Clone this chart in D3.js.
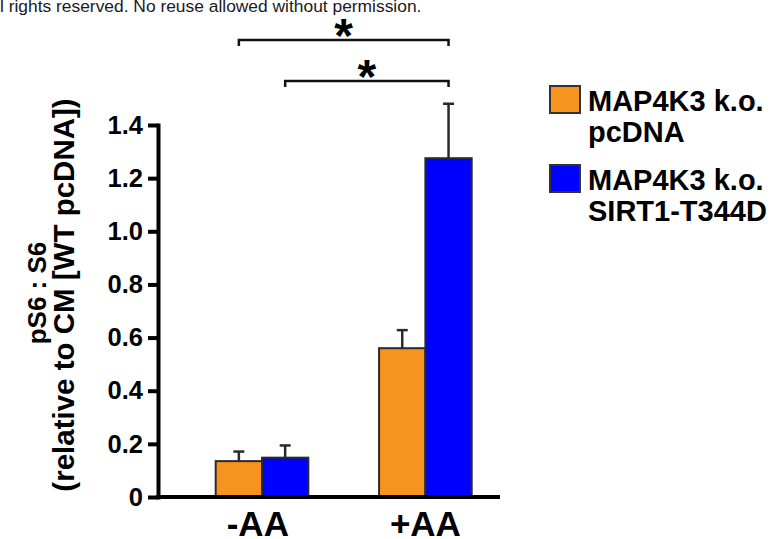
<!DOCTYPE html>
<html>
  <head>
    <meta charset="utf-8">
    <script src="https://d3js.org/d3.v7.min.js"></script>
    <title>pS6 : S6</title>
    <style>
      body { margin: 0; background: #fff; }
      svg text { font-family: "Liberation Sans", Arial, Helvetica, sans-serif; fill: #000; }
      .bold { font-weight: bold; }
    </style>
  </head>
  <body>
    <div id="chart"></div>
    <script>
      // data
      const groups = ["-AA", "+AA"];
      const series = ["MAP4K3 k.o. pcDNA", "MAP4K3 k.o. SIRT1-T344D"];
      const legendLines = [["MAP4K3 k.o.", "pcDNA"], ["MAP4K3 k.o.", "SIRT1-T344D"]];
      const colors = ["#F7941F", "#0000FF"];
      const means = [[0.135, 0.148], [0.56, 1.275]]; // [group][series]
      const errs = [[0.036, 0.046], [0.068, 0.205]];
      const yTicks = [0, 0.2, 0.4, 0.6, 0.8, 1.0, 1.2, 1.4];
      // significance: [group, series] -> [group, series]
      const sig = [
        { from: [0, 0], to: [1, 1], label: "*" },
        { from: [0, 1], to: [1, 1], label: "*" }
      ];

      const W = 775, H = 539;
      const svg = d3.select("#chart").append("svg")
        .attr("width", W).attr("height", H);

      const y = d3.scaleLinear().domain([0, 1.4]).range([497, 125]);
      const x = d3.scaleBand().domain(groups).range([215.7, 471.7]).paddingInner(0.433);
      const xs = d3.scaleBand().domain(series).range([0, x.bandwidth()]);
      const AXIS_X = 158;

      // header note (clipped on the left in the original)
      svg.append("text")
        .attr("x", -15.5).attr("y", 12)
        .style("font-size", "17.4px").style("fill", "#1a1a1a")
        .text("All rights reserved. No reuse allowed without permission.");

      // y axis
      const yAxis = svg.append("g")
        .attr("transform", `translate(${AXIS_X},0)`)
        .call(d3.axisLeft(y).tickValues(yTicks).tickSize(10).tickSizeOuter(0).tickPadding(5)
          .tickFormat(d => d === 0 ? "0" : d3.format(".1f")(d)));
      yAxis.select(".domain").attr("stroke-width", 4).attr("stroke-linecap", "square");
      yAxis.selectAll(".tick line").attr("stroke-width", 4);
      yAxis.selectAll(".tick text").attr("class", "bold").style("font-size", "25.5px");

      // bars
      const bars = svg.append("g");
      groups.forEach((g, gi) => {
        series.forEach((s, si) => {
          const bx = x(g) + xs(s);
          bars.append("rect")
            .attr("x", bx).attr("width", xs.bandwidth())
            .attr("y", y(means[gi][si]))
            .attr("height", y(0) - y(means[gi][si]))
            .attr("fill", colors[si])
            .attr("stroke", "#2a2a2a").attr("stroke-width", 2);
          const cx = bx + xs.bandwidth() / 2;
          const top = y(means[gi][si] + errs[gi][si]);
          bars.append("line")
            .attr("x1", cx).attr("x2", cx)
            .attr("y1", y(means[gi][si])).attr("y2", top)
            .attr("stroke", "#2a2a2a").attr("stroke-width", 2.5);
          bars.append("line")
            .attr("x1", cx - 5.5).attr("x2", cx + 5.5)
            .attr("y1", top).attr("y2", top)
            .attr("stroke", "#2a2a2a").attr("stroke-width", 2.5);
        });
      });

      // x axis baseline and labels
      svg.append("line")
        .attr("x1", AXIS_X - 2).attr("x2", 500)
        .attr("y1", y(0)).attr("y2", y(0))
        .attr("stroke", "#000").attr("stroke-width", 4);
      const xAxis = svg.append("g")
        .attr("transform", `translate(0,${y(0)})`)
        .call(d3.axisBottom(x).tickSize(0).tickPadding(14));
      xAxis.select(".domain").remove();
      xAxis.selectAll(".tick text").attr("class", "bold").style("font-size", "35px")
        .attr("dx", d => d === "-AA" ? "-0.12em" : 0);

      // y title
      const title = svg.append("g").attr("class", "bold").attr("text-anchor", "middle");
      title.append("text")
        .attr("transform", "translate(46,293) rotate(-90)")
        .style("font-size", "26px").text("pS6 : S6");
      title.append("text")
        .attr("transform", "translate(74,295) rotate(-90)")
        .style("font-size", "29.5px").text("(relative to CM [WT pcDNA])");

      // significance brackets
      const center = ([gi, si]) => x(groups[gi]) + xs(series[si]) + xs.bandwidth() / 2;
      const bracketY = [40, 81];
      sig.forEach((d, i) => {
        const x1 = center(d.from), x2 = center(d.to), by = bracketY[i];
        svg.append("path")
          .attr("d", `M${x1},${by + 6}V${by}H${x2}V${by + 6}`)
          .attr("fill", "none").attr("stroke", "#111").attr("stroke-width", 2.5);
        svg.append("text")
          .attr("class", "bold")
          .attr("x", (x1 + x2) / 2).attr("y", by + 12)
          .attr("text-anchor", "middle")
          .style("font-size", "48px").text(d.label);
      });

      // legend
      const legend = svg.append("g").attr("transform", "translate(550,86)");
      legendLines.forEach((lines, i) => {
        const row = legend.append("g").attr("transform", `translate(0,${i * 79})`);
        row.append("rect")
          .attr("x", 0).attr("y", 0).attr("width", 30).attr("height", 27)
          .attr("fill", colors[i]).attr("stroke", "#333").attr("stroke-width", 2);
        lines.forEach((t, j) => {
          row.append("text").attr("class", "bold")
            .attr("x", 38).attr("y", 25 + j * 31)
            .style("font-size", "29px").text(t);
        });
      });
    </script>
  </body>
</html>
